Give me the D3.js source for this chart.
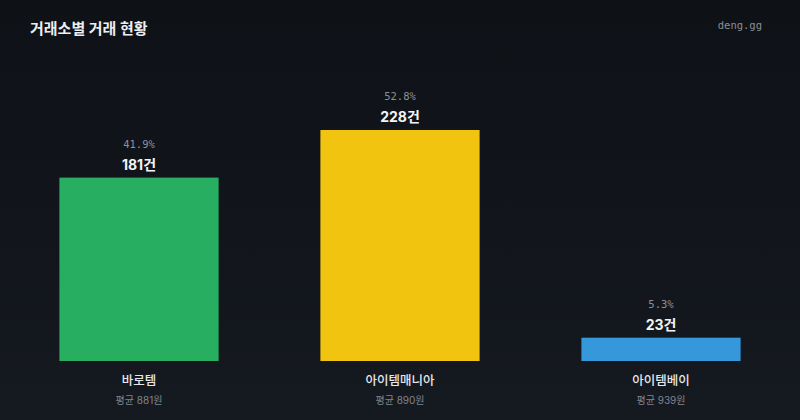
<!DOCTYPE html>
<html>
<head>
<meta charset="utf-8">
<script src="https://cdn.jsdelivr.net/npm/d3@7"></script>
<style>
  html, body { margin: 0; padding: 0; background: #111419; }
  svg { display: block; }
</style>
</head>
<body>
<script>
var exchanges = ["바로템", "아이템매니아", "아이템베이"];
var counts = [181, 228, 23];
var shares = ["41.9%", "52.8%", "5.3%"];
var avgPrices = ["평균 881원", "평균 890원", "평균 939원"];
var colors = ["#27ae60", "#f1c40f", "#3498db"];

var W = 800, H = 420;
var sans = "Inter, 'Noto Sans CJK KR', sans-serif";
var mono = "'DejaVu Sans Mono', monospace";

var svg = d3.select("body").append("svg").attr("width", W).attr("height", H);

// background, a little lighter toward the bottom
var grad = svg.append("defs").append("linearGradient")
  .attr("id", "bg").attr("x1", 0).attr("y1", 0).attr("x2", 0).attr("y2", 1);
grad.append("stop").attr("offset", "0%").attr("stop-color", "#0e1116");
grad.append("stop").attr("offset", "100%").attr("stop-color", "#151920");
svg.append("rect").attr("width", W).attr("height", H).attr("fill", "url(#bg)");

svg.append("text")
  .attr("x", 30).attr("y", 34)
  .attr("fill", "#eceef1")
  .style("font-family", sans).style("font-size", "15px").style("font-weight", "bold")
  .text("거래소별 거래 현황");

svg.append("text")
  .attr("x", 762).attr("y", 29)
  .attr("text-anchor", "end")
  .attr("fill", "#8a8f97")
  .style("font-family", mono).style("font-size", "10.5px")
  .text("deng.gg");

var x = d3.scaleBand().domain(exchanges).range([40, 760]).paddingInner(0.39).paddingOuter(0.0743);
var y = d3.scaleLinear().domain([0, d3.max(counts)]).range([361, 130]);

var g = svg.selectAll("g.bar")
  .data(exchanges)
  .enter().append("g").attr("class", "bar");

g.append("rect")
  .attr("x", function(d) { return x(d); })
  .attr("width", x.bandwidth())
  .attr("y", function(d, i) { return y(counts[i]); })
  .attr("height", function(d, i) { return y(0) - y(counts[i]); })
  .attr("fill", function(d, i) { return colors[i]; });

function cx(d) { return x(d) + x.bandwidth() / 2; }

g.append("text")   // share
  .attr("x", cx)
  .attr("y", function(d, i) { return y(counts[i]) - 30; })
  .attr("text-anchor", "middle")
  .attr("fill", "#8c9199")
  .style("font-family", mono).style("font-size", "10.5px")
  .text(function(d, i) { return shares[i]; });

g.append("text")   // count
  .attr("x", cx)
  .attr("y", function(d, i) { return y(counts[i]) - 8; })
  .attr("text-anchor", "middle")
  .attr("fill", "#f2f3f5")
  .style("font-family", sans).style("font-size", "14px").style("font-weight", "bold")
  .text(function(d, i) { return counts[i] + "건"; });

g.append("text")   // name
  .attr("x", cx)
  .attr("y", 385)
  .attr("text-anchor", "middle")
  .attr("fill", "#e6e8eb")
  .style("font-family", sans).style("font-size", "12.5px").style("font-weight", "500")
  .text(function(d) { return d; });

g.append("text")   // average price
  .attr("x", cx)
  .attr("y", 404)
  .attr("text-anchor", "middle")
  .attr("fill", "#80858d")
  .style("font-family", sans).style("font-size", "10px")
  .text(function(d, i) { return avgPrices[i]; });
</script>
</body>
</html>
